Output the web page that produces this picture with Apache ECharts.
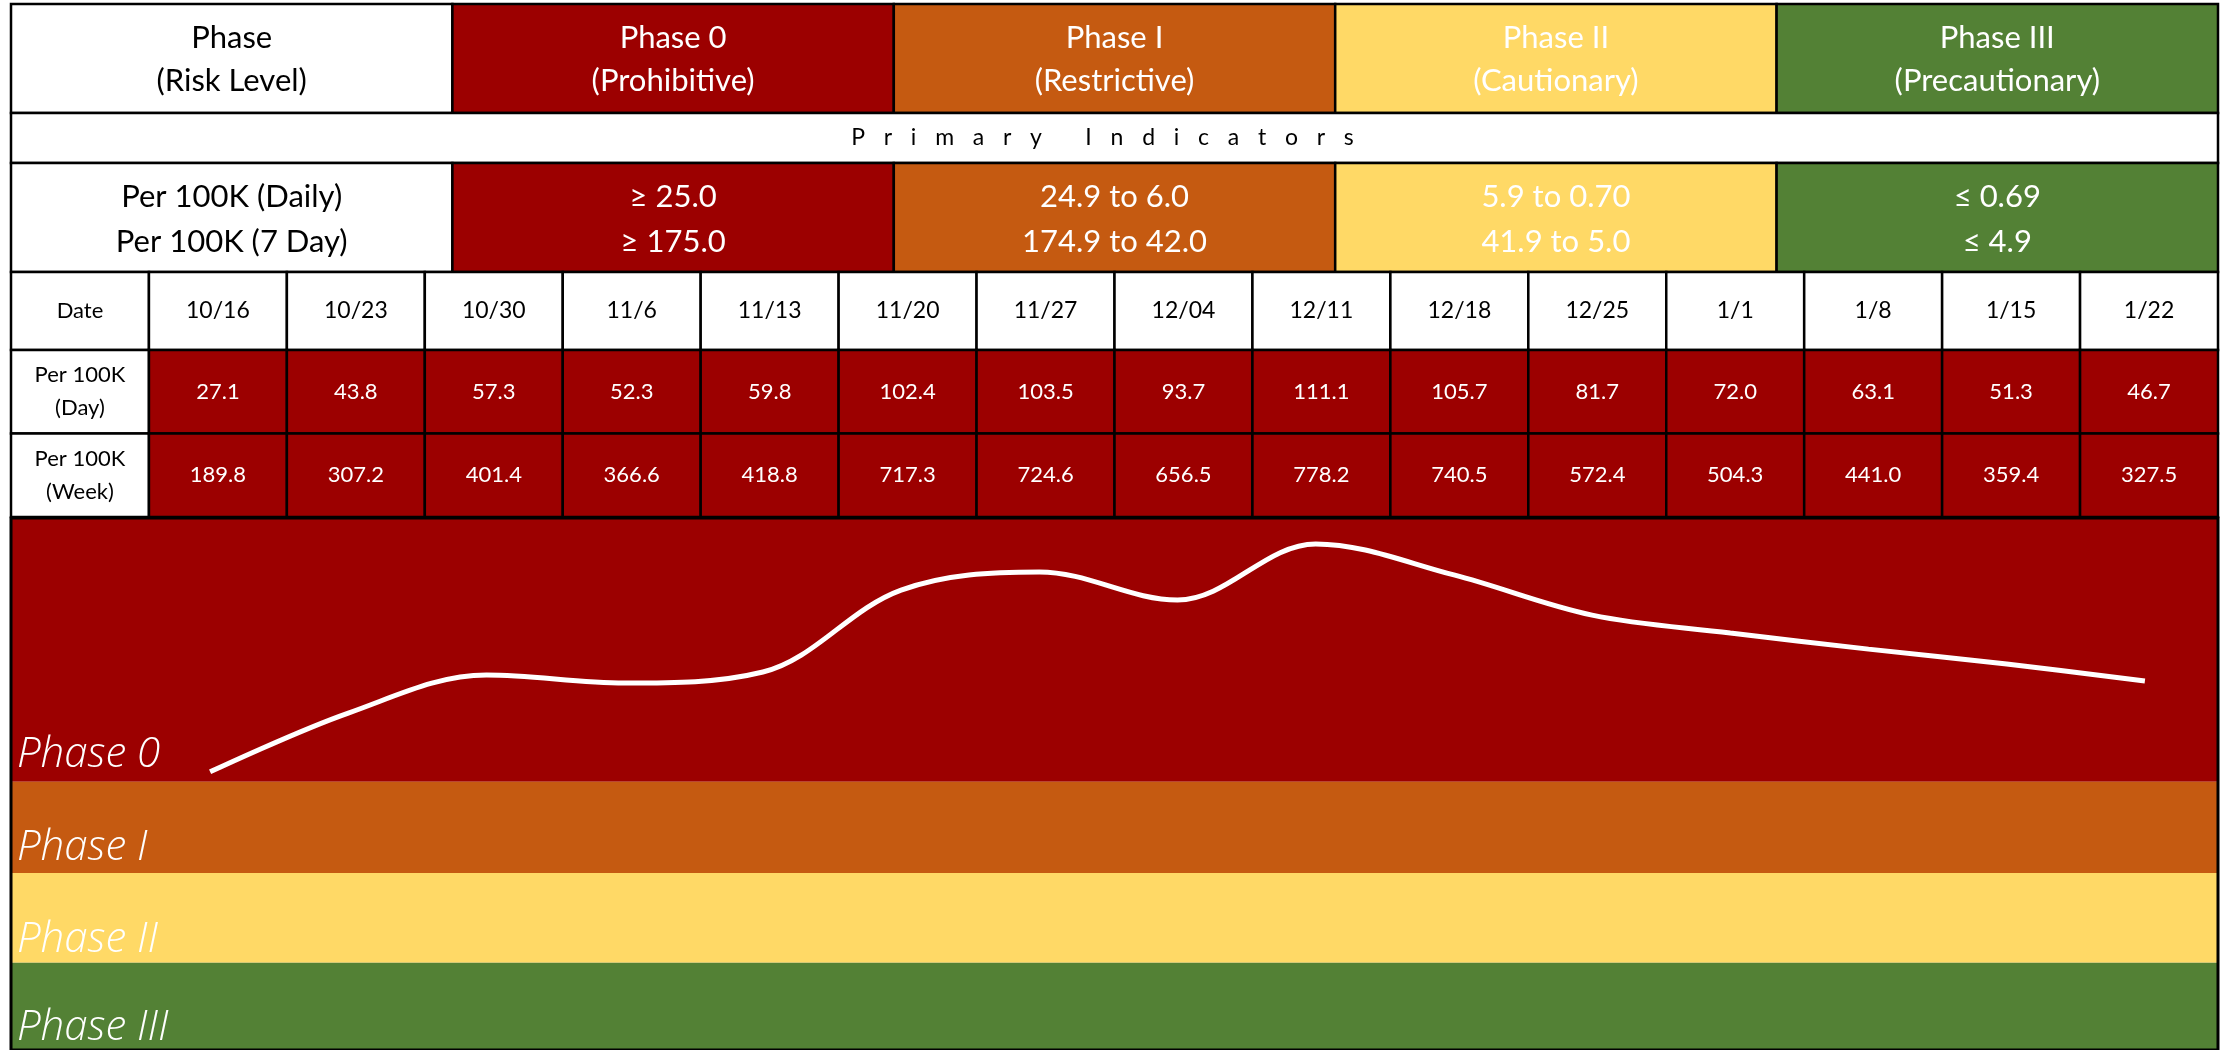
<!DOCTYPE html>
<html><head><meta charset="utf-8">
<script src="https://cdn.jsdelivr.net/npm/echarts@6/dist/echarts.min.js"></script>
<style>html,body{margin:0;padding:0;background:#fff;}#c{width:2221px;height:1050px;}</style>
</head><body><div id="c"></div>
<script>
// ---------- data ----------
const headerLabel = ['Phase', '(Risk Level)'];
const phaseNames = ['Phase 0', 'Phase I', 'Phase II', 'Phase III'];
const riskLevels = ['(Prohibitive)', '(Restrictive)', '(Cautionary)', '(Precautionary)'];
const sectionTitle = 'Primary Indicators';
const indicatorLabel = ['Per 100K (Daily)', 'Per 100K (7 Day)'];
const dailyThresholds = ['\u2265 25.0', '24.9 to 6.0', '5.9 to 0.70', '\u2264 0.69'];
const weeklyThresholds = ['\u2265 175.0', '174.9 to 42.0', '41.9 to 5.0', '\u2264 4.9'];
const dailyCutoffs = [25.0, 6.0, 0.70];
const weeklyCutoffs = [175.0, 42.0, 5.0];
const dateHeader = 'Date';
const dates = ['10/16','10/23','10/30','11/6','11/13','11/20','11/27','12/04','12/11','12/18','12/25','1/1','1/8','1/15','1/22'];
const rowLabels = ['Per 100K\n(Day)', 'Per 100K\n(Week)'];
const perDay = [27.1, 43.8, 57.3, 52.3, 59.8, 102.4, 103.5, 93.7, 111.1, 105.7, 81.7, 72.0, 63.1, 51.3, 46.7];
const perWeek = [189.8, 307.2, 401.4, 366.6, 418.8, 717.3, 724.6, 656.5, 778.2, 740.5, 572.4, 504.3, 441.0, 359.4, 327.5];
// hand-drawn trend curve (same units as the band scale)
const trendLine = [27.9, 49.7, 63.8, 60.8, 64.9, 95.3, 102.0, 91.6, 112.4, 100.9, 86.0, 79.4, 73.4, 67.9, 61.6];
// phase band floors on the trend scale (Phase 0 .. Phase III)
const bandFloors = [24.2, -9.6, -42.9, -77];
const bandTop = 122;
const scaleBottom = -75.2; // lowest value visible at the page edge

// ---------- styles ----------
const phaseColors = ['#9C0000', '#C55A11', '#FFD966', '#538135'];
const bandLabelShift = [0, 2, 4, 5];
const FONT = 'Lato, "Open Sans", sans-serif';

function phaseIndex(v, cutoffs) {
  for (let k = 0; k < cutoffs.length; k++) if (v >= cutoffs[k]) return k;
  return cutoffs.length;
}

function cellSeries(idx, cells) {
  return {
    type: 'custom', xAxisIndex: idx, yAxisIndex: idx, clip: false, silent: true,
    data: cells.map(c => [c.x, c.y]),
    renderItem: function (params, api) {
      const cell = cells[params.dataIndex];
      const p = api.coord([api.value(0), api.value(1)]);
      const s = api.size([1, 1]);
      const style = {
        text: cell.text, fill: cell.color, fontSize: cell.size, fontFamily: FONT,
        align: 'center', verticalAlign: 'middle', lineHeight: cell.lh || cell.size * 1.3
      };
      if (cell.rich) style.rich = cell.rich;
      return { type: 'group', children: [
        { type: 'rect', shape: { x: p[0] - s[0] / 2, y: p[1] - s[1] / 2, width: s[0], height: s[1] },
          style: { fill: cell.fill, stroke: '#000', lineWidth: 2.5 } },
        { type: 'text', x: p[0] + (cell.dx || 0), y: p[1] + (cell.dy || 0), style: style, z2: 10 }
      ]};
    }
  };
}

// header row 1
const row1 = [{ x: 0, y: 0, text: headerLabel.join('\n'), fill: '#fff', color: '#000', size: 31, lh: 43, dy: 1 }]
  .concat(phaseNames.map((n, i) => ({ x: i + 1, y: 0, text: n + '\n' + riskLevels[i], fill: phaseColors[i], color: '#fff', size: 31, lh: 43, dy: 1 })));
// primary indicators row
const spaced = sectionTitle.split('').join('{g|\u2003}');
const row2 = [{ x: 0, y: 0, text: spaced, fill: '#fff', color: '#000', size: 23, lh: 30, dx: -12,
  rich: { g: { fontSize: 25, fontFamily: FONT } } }];
// thresholds row
const row3 = [{ x: 0, y: 0, text: indicatorLabel.join('\n'), fill: '#fff', color: '#000', size: 31, lh: 45, dy: 2 }]
  .concat(phaseNames.map((n, i) => ({ x: i + 1, y: 0, text: dailyThresholds[i] + '\n' + weeklyThresholds[i], fill: phaseColors[i], color: '#fff', size: 31, lh: 45, dy: 2 })));
// dates row
const row4 = [{ x: 0, y: 0, text: dateHeader, fill: '#fff', color: '#000', size: 22 }]
  .concat(dates.map((d, i) => ({ x: i + 1, y: 0, text: d, fill: '#fff', color: '#000', size: 23 })));
// values rows
const row5 = [];
rowLabels.forEach((l, r) => row5.push({ x: 0, y: r, text: l, fill: '#fff', color: '#000', size: 22, lh: 33 }));
perDay.forEach((v, i) => row5.push({ x: i + 1, y: 0, text: v.toFixed(1), fill: phaseColors[phaseIndex(v, dailyCutoffs)], color: '#fff', size: 22 }));
perWeek.forEach((v, i) => row5.push({ x: i + 1, y: 1, text: v.toFixed(1), fill: phaseColors[phaseIndex(v, weeklyCutoffs)], color: '#fff', size: 22 }));

const colKeys5 = ['label'].concat(phaseNames);
const colKeys16 = [dateHeader].concat(dates);

const hiddenCat = (data, extra) => Object.assign({ type: 'category', data: data, show: false, boundaryGap: true }, extra || {});
const hiddenVal = (min, max) => ({ type: 'value', min: min, max: max, show: false, splitLine: { show: false } });

const bandLabel = (i) => ({
  show: true, position: 'insideBottomLeft', distance: 6, color: '#fff', offset: [0, bandLabelShift[i]],
  fontFamily: '"Open Sans", Lato, sans-serif', fontStyle: 'italic', fontWeight: 300, fontSize: 42
});

const option = {
  animation: false,
  backgroundColor: '#fff',
  grid: [
    { left: 11, right: 3, top: 4, height: 109 },
    { left: 11, right: 3, top: 113, height: 50 },
    { left: 11, right: 3, top: 163, height: 109 },
    { left: 11, right: 3, top: 272, height: 78 },
    { left: 11, right: 3, top: 350, height: 167 },
    { left: 11, right: 3, top: 518, bottom: 0, show: true, borderColor: '#000', borderWidth: 3, backgroundColor: 'transparent', z: 6 },
    { left: 141, right: 7, top: 518, bottom: 0 }
  ],
  xAxis: [
    hiddenCat(colKeys5, { gridIndex: 0 }),
    hiddenCat(['all'], { gridIndex: 1 }),
    hiddenCat(colKeys5, { gridIndex: 2 }),
    hiddenCat(colKeys16, { gridIndex: 3 }),
    hiddenCat(colKeys16, { gridIndex: 4 }),
    Object.assign(hiddenVal(0, 1), { gridIndex: 5 }),
    hiddenCat(dates, { gridIndex: 6 })
  ],
  yAxis: [
    hiddenCat(['names'], { gridIndex: 0 }),
    hiddenCat(['title'], { gridIndex: 1 }),
    hiddenCat(['thresholds'], { gridIndex: 2 }),
    hiddenCat(['date'], { gridIndex: 3 }),
    hiddenCat(['day', 'week'], { gridIndex: 4, inverse: true }),
    Object.assign(hiddenVal(scaleBottom, bandTop), { gridIndex: 5 }),
    Object.assign(hiddenVal(scaleBottom, bandTop), { gridIndex: 6 })
  ],
  series: [
    cellSeries(0, row1),
    cellSeries(1, row2),
    cellSeries(2, row3),
    cellSeries(3, row4),
    cellSeries(4, row5),
    {
      type: 'line', xAxisIndex: 5, yAxisIndex: 5, data: [], silent: true, z: 1,
      markArea: {
        silent: true,
        data: phaseNames.map((n, i) => [
          { name: n, yAxis: bandFloors[i], itemStyle: { color: phaseColors[i], opacity: 1 }, label: bandLabel(i) },
          { yAxis: i === 0 ? bandTop : bandFloors[i - 1] }
        ])
      }
    },
    {
      type: 'line', xAxisIndex: 6, yAxisIndex: 6, data: trendLine, smooth: 0.35,
      symbol: 'none', silent: true, z: 5,
      lineStyle: { color: '#fff', width: 5, cap: 'butt' }
    }
  ]
};

const chart = echarts.init(document.getElementById('c'), null, { renderer: 'canvas' });
chart.setOption(option);
</script>
</body></html>
